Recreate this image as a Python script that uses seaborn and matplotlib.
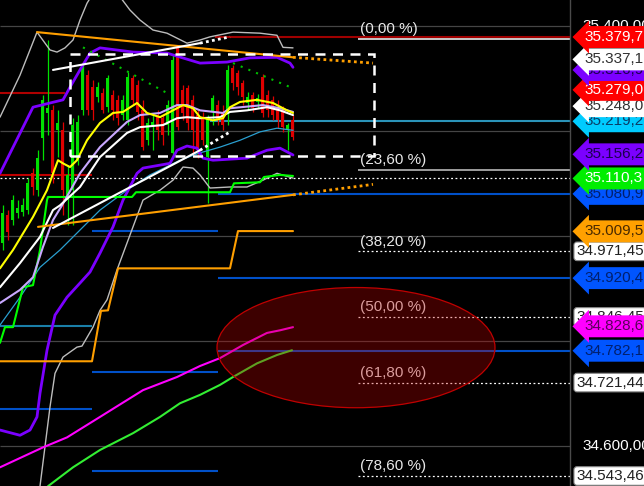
import matplotlib
matplotlib.use("Agg")
import numpy as np
import matplotlib.pyplot as plt
from matplotlib.patches import Ellipse, Rectangle
import seaborn as sns

sns.set_theme(style="dark", rc={"axes.facecolor": "black", "figure.facecolor": "black"})
plt.rcParams["font.family"] = ["Liberation Sans", "DejaVu Sans"]

# ---- candles (one per bar) ----
c_open = [34987, 35040, 35031, 35044, 35046, 35050, 35120, 35088, 35187, 35235, 35240, 35202, 35202, 35069, 35088,
          35145, 35240, 35307, 35284, 35265, 35273, 35246, 35269, 35260, 35231, 35221, 35301, 35288, 35240, 35183,
          35212, 35231, 35225, 35212, 35159, 35359, 35279, 35282, 35260, 35231, 35227, 35151, 35237, 35250, 35237,
          35235, 35320, 35311, 35292, 35254, 35269, 35256, 35303, 35269, 35260, 35246, 35240, 35202, 35221]
c_high = [35059, 35050, 35079, 35069, 35073, 35111, 35130, 35164, 35269, 35374, 35250, 35240, 35218, 35136, 35225,
          35231, 35332, 35317, 35298, 35294, 35282, 35307, 35279, 35269, 35269, 35313, 35307, 35298, 35260, 35225,
          35231, 35240, 35231, 35260, 35345, 35364, 35288, 35288, 35269, 35240, 35237, 35231, 35269, 35260, 35250,
          35326, 35326, 35317, 35298, 35275, 35275, 35271, 35309, 35279, 35267, 35260, 35248, 35216, 35231]
c_low = [34974, 34993, 35021, 35035, 35039, 35042, 35079, 35077, 35145, 35193, 35101, 35151, 35040, 35021, 35021,
         35136, 35231, 35231, 35221, 35256, 35235, 35237, 35221, 35212, 35221, 35212, 35250, 35221, 35164, 35174,
         35164, 35183, 35174, 35193, 35149, 35202, 35221, 35202, 35155, 35149, 35174, 35063, 35212, 35212, 35202,
         35212, 35279, 35269, 35250, 35240, 35237, 35244, 35227, 35227, 35221, 35206, 35199, 35164, 35183]
c_close = [35044, 35008, 35069, 35054, 35059, 35101, 35094, 35149, 35260, 35244, 35120, 35216, 35088, 35117, 35212,
           35218, 35322, 35240, 35240, 35284, 35240, 35301, 35240, 35225, 35260, 35303, 35260, 35237, 35170, 35216,
           35218, 35202, 35193, 35250, 35336, 35208, 35235, 35216, 35202, 35164, 35183, 35225, 35263, 35221, 35212,
           35317, 35292, 35284, 35265, 35265, 35244, 35263, 35235, 35240, 35231, 35221, 35208, 35212, 35189]

# ---- indicator lines (bar, price) ----
bb_out_up_t = [0, 4, 7.4, 10, 11.4, 13, 14.6, 16, 17.4, 19, 23, 26, 28, 30.6, 33.4, 37.4, 40, 42, 46.6, 52, 55.4, 56.6, 58.6]
bb_out_up_p = [35227, 35307, 35389, 35355, 35351, 35359, 35374, 35412, 35444, 35469, 35469, 35431, 35412, 35393,
               35387, 35368, 35374, 35380, 35389, 35387, 35383, 35360, 35359]
bb_out_lo_t = [8, 10, 11, 12.6, 15.4, 16.4, 18.6, 20, 21.4, 23.4, 26.6, 28.6, 32, 34.6, 36.6, 38.6, 40, 42, 46, 49.4,
               52.6, 55.4, 58.6]
bb_out_lo_p = [34524, 34675, 34739, 34770, 34789, 34791, 34827, 34859, 34879, 34936, 35018, 35069, 35088, 35107,
               35132, 35130, 35117, 35092, 35094, 35094, 35107, 35120, 35111]
bb_up_t = [0, 6.6, 10, 12.6, 14, 16, 18, 20, 26.6, 33.4, 40, 45.4, 50, 55.4, 58, 58.6]
bb_up_p = [35120, 35246, 35254, 35260, 35284, 35317, 35349, 35359, 35351, 35349, 35330, 35332, 35340, 35341, 35330, 35322]
bb_lo_t = [0, 4, 6, 7.4, 8, 9.4, 11, 13.4, 16, 18, 20, 22.6, 24.6, 27.4, 28.6, 34, 35.4, 37.4, 39.4, 40.6, 42.6, 49.4,
           53.4, 56, 58.6]
bb_lo_p = [34631, 34621, 34631, 34656, 34701, 34783, 34850, 34884, 34911, 34932, 34968, 35018, 35069, 35120, 35130,
           35139, 35164, 35172, 35168, 35149, 35145, 35149, 35164, 35168, 35155]
yellow_t = [0, 2.6, 6.6, 9.4, 11.6, 12.6, 14, 15.4, 17.4, 20, 22.6, 24.6, 27.4, 29.4, 32, 34.6, 36.6, 38.6, 40, 42.6,
            44.6, 46, 48, 51.4, 54.6, 57.4, 58.6]
yellow_p = [34939, 34974, 35037, 35088, 35145, 35139, 35132, 35145, 35183, 35216, 35235, 35237, 35254, 35235, 35227,
            35240, 35250, 35244, 35227, 35221, 35225, 35246, 35256, 35260, 35254, 35240, 35235]
white_t = [0, 4, 8, 10.6, 12, 16, 20, 25.4, 28, 32.6, 35.4, 37.4, 40, 44, 46, 49.4, 53.4, 56, 58.6]
white_p = [34903, 34949, 34999, 35050, 35059, 35094, 35151, 35197, 35208, 35212, 35225, 35227, 35225, 35227, 35237,
           35240, 35246, 35240, 35231]
lavender_t = [0, 4, 6.6, 8.6, 10.6, 12.4, 16, 20, 25.4, 28, 32, 35.4, 37.4, 40, 44.6, 46, 52.6, 56, 58.6]
lavender_p = [34873, 34898, 34922, 34980, 35031, 35059, 35120, 35170, 35218, 35231, 35235, 35250, 35250, 35240, 35235,
              35244, 35250, 35244, 35237]
teal_t = [0, 4, 8, 12, 16, 20, 25.4, 30, 36, 40, 44, 48, 52, 55.4, 58.6]
teal_p = [34831, 34884, 34941, 34974, 35012, 35050, 35088, 35117, 35145, 35159, 35170, 35183, 35199, 35206, 35202]
gstep_t = [0, 1, 2.6, 4.6, 6.6, 8, 9.4, 9.6, 26.4, 27.2, 46, 46.8, 52, 52.8, 56, 58.6]
gstep_p = [34797, 34827, 34827, 34903, 34907, 34974, 35069, 35075, 35075, 35084, 35084, 35101, 35103, 35113, 35117, 35115]
magenta_t = [0, 8.6, 13.4, 20, 28.6, 35.4, 40, 44, 48.6, 53.4, 56, 58.6]
magenta_p = [34560, 34598, 34617, 34656, 34707, 34732, 34753, 34768, 34793, 34816, 34821, 34827]
sma_t = [9.6, 14.6, 20, 26.6, 32, 36, 40, 44, 46.6, 51.4, 55.4, 58.4]
sma_p = [34524, 34560, 34593, 34625, 34656, 34682, 34698, 34717, 34732, 34758, 34774, 34783]
ostep_t = [0, 18.4, 20.2, 21.6, 23.6, 46, 47.6, 58.6]
ostep_p = [34762, 34762, 34858, 34859, 34939, 34939, 35010, 35010]

# trend lines: [start, end of solid part, end of dotted part]
otop_t = [7.4, 58.6, 74.6]
otop_p = [35389, 35341, 35330]
obot_t = [7.6, 58.6, 74.6]
obot_p = [35018, 35079, 35099]
wtop_t = [10.6, 40, 46]
wtop_p = [35317, 35368, 35380]
wbot_t = [10.6, 40, 46]
wbot_p = [35016, 35164, 35199]
gdot1_t = [16.6, 33.4]
gdot1_p = [35360, 35273]
gdot2_t = [46.6, 58.6]
gdot2_p = [35330, 35282]

# ---- horizontal levels ----
grid_p = [35400, 35200, 35000, 34800, 34600]
scale_p = [35400, 34600]
scale_lbl = ["35.400,00", "34.600,00"]
lvl_p = [35379.7, 35273, 35117, 35219.2, 35080.9, 35010, 34920.4, 34829, 34782.1, 34741, 34671, 34553]
lvl_t0 = [43, 0, 0, 42, 43.6, 18.4, 43.6, 0, 43.6, 18.4, 0, 18.4]
lvl_t1 = [114, 13, 18.4, 114, 114, 43.6, 114, 18.4, 114, 43.6, 18.4, 43.6]
lvl_col = ["#a00000", "#b00000", "#c00000", "#2a93b8", "#0050c8", "#0050c8", "#0050c8", "#1a7fa8", "#0050c8",
           "#0050c8", "#0050c8", "#0050c8"]
dot_level = 35110.3

fib_p = [35376.13, 35126.12, 34971.45, 34846.45, 34721.44, 34543.46]
fib_pct = ["0,00", "23,60", "38,20", "50,00", "61,80", "78,60"]
fib_t0 = 71.6
box_fib_p = [34971.45, 34846.45, 34721.44, 34543.46]
box_fib_txt = ["34.971,45", "34.846,45", "34.721,44", "34.543,46"]

box_t = [14, 74.8]
box_p = [35153, 35347]
ell_t, ell_p, ell_w, ell_h = 71.2, 34788, 55.6, 229

# price tags on the right scale
tag_p = [35379.7, 35337.1, 35316.9, 35279.0, 35248.0, 35219.2, 35156.2, 35110.3, 35080.9, 35009.5, 34920.4,
         34828.6, 34782.1]
tag_txt = ["35.379,7", "35.337,1", "35.316,9", "35.279,0", "35.248,0", "35.219,2", "35.156,2", "35.110,3",
           "35.080,9", "35.009,5", "34.920,4", "34.828,6", "34.782,1"]
tag_fc = ["#ff0000", "#ffffff", "#7b00ff", "#ff0000", "#ffffff", "#00ccff", "#7b00ff", "#00ee00", "#0055ff",
          "#ffa000", "#0055ff", "#ff00ff", "#0055ff"]
tag_tc = ["white", "#303030", "#1c0050", "white", "#303030", "#0a3c66", "#1c0050", "white", "#00206e",
          "#4a2a00", "#00206e", "#5a005a", "#00206e"]

fig = plt.figure(figsize=(6.44, 4.86), dpi=100)
ax = fig.add_axes([0, 0, 570 / 644, 1])
ax.set_xlim(0, 114)
ax.set_ylim(34524.4, 35450.2)
ax.set_xticks([])
ax.set_yticks([])
for s in ["left", "top", "bottom"]:
    ax.spines[s].set_visible(False)
ax.spines["right"].set_color("#4a4a4a")
ax.spines["right"].set_linewidth(1)

# grid + levels
ax.hlines(grid_p, 0, 114, colors="#454545", lw=0.9, zorder=1)
ax.hlines(lvl_p, lvl_t0, lvl_t1, colors=lvl_col, lw=1.5, zorder=1.5)
ax.hlines(dot_level, 0, 114, colors="white", lw=0.9, linestyles=(0, (1.5, 2)), zorder=1.5)
ax.hlines(fib_p[0], fib_t0, 114, colors="white", lw=1.1, zorder=1.5)
ax.hlines(fib_p[1], fib_t0, 114, colors="#c8c8c8", lw=1.1, zorder=1.5)
ax.hlines(fib_p[2:], fib_t0, 114, colors="white", lw=0.9, linestyles=(0, (1.5, 2)), zorder=1.5)
for p, pct in zip(fib_p, fib_pct):
    ax.annotate(f"({pct} %)", xy=(fib_t0 + 0.4, p), xytext=(0, 2), textcoords="offset points",
                ha="left", va="bottom", color="#e8e8e8", fontsize=11, zorder=2)

# candles
x = np.arange(len(c_open)) + 0.5
o, h, l, c = map(np.array, (c_open, c_high, c_low, c_close))
col = np.where(c >= o, "#00e000", "#e00000")
ax.vlines(x, l, h, colors=col, lw=0.9, zorder=2)
ax.bar(x, np.maximum(np.abs(c - o), 3), bottom=np.minimum(o, c), width=0.6, color=col, linewidth=0, zorder=2.2)


def line(t, p, color, lw, ls="-", z=3):
    sns.lineplot(x=t, y=p, ax=ax, color=color, linewidth=lw, linestyle=ls, estimator=None,
                 sort=False, legend=False, zorder=z)


line(bb_out_up_t, bb_out_up_p, "#bdbdbd", 1.0)
line(bb_out_lo_t, bb_out_lo_p, "#bdbdbd", 1.0)
line(teal_t, teal_p, "#2a9fd0", 0.9)
line(bb_up_t, bb_up_p, "#7b00ff", 2.0)
line(bb_lo_t, bb_lo_p, "#7b00ff", 2.0)
line(gstep_t, gstep_p, "#00ff00", 1.5)
line(lavender_t, lavender_p, "#c9a8ff", 1.5)
line(white_t, white_p, "#ffffff", 1.5)
line(yellow_t, yellow_p, "#ffff00", 1.5)
line(magenta_t, magenta_p, "#ff00ff", 1.5)
line(sma_t, sma_p, "#33ee33", 1.5)
line(ostep_t, ostep_p, "#ff9f00", 1.5)
for tt, pp, cc in [(otop_t, otop_p, "#ff9f00"), (obot_t, obot_p, "#ff9f00"),
                   (wtop_t, wtop_p, "#ffffff"), (wbot_t, wbot_p, "#ffffff")]:
    line(tt[:2], pp[:2], cc, 1.5, z=3.5)
    line(tt[1:], pp[1:], cc, 2.0, ls=(0, (1, 1.2)), z=3.5)
line(gdot1_t, gdot1_p, "#00c000", 1.5, ls=(0, (1, 3)))
line(gdot2_t, gdot2_p, "#00c000", 1.5, ls=(0, (1, 3)))

# dashed box and ellipse
ax.add_patch(Rectangle((box_t[0], box_p[0]), box_t[1] - box_t[0], box_p[1] - box_p[0], fill=False,
                       ec="white", lw=1.8, ls=(0, (4, 3)), zorder=4))
ax.add_patch(Ellipse((ell_t, ell_p), ell_w, ell_h, fc=(0.75, 0, 0, 0.32), ec="#c00000", lw=0.9, zorder=5))

# right price scale
ytr = ax.get_yaxis_transform()
z = 10
for p, t in zip(scale_p, scale_lbl):
    ax.annotate(t, xy=(1, p), xycoords=ytr, xytext=(9, 0), textcoords="offset points", va="center",
                ha="left", color="white", fontsize=11, annotation_clip=False, zorder=z)
for p, t in zip(box_fib_p, box_fib_txt):
    z += 1
    ax.annotate(t, xy=(1, p), xycoords=ytr, xytext=(4.5, 0), textcoords="offset points", va="center",
                ha="left", color="#202020", fontsize=11, annotation_clip=False, zorder=z,
                bbox=dict(boxstyle="round,pad=0.15,rounding_size=0.2", fc="white", ec="#888888", lw=0.8))
for p, t, fc, tc in reversed(list(zip(tag_p, tag_txt, tag_fc, tag_tc))):
    z += 1
    ax.annotate(t, xy=(1, p), xycoords=ytr, xytext=(10.5, 0), textcoords="offset points", va="center",
                ha="left", color=tc, fontsize=11, annotation_clip=False, zorder=z,
                bbox=dict(boxstyle="larrow,pad=0.26", fc=fc, ec="none"))

fig.savefig("out.png", dpi=100, facecolor="black")
